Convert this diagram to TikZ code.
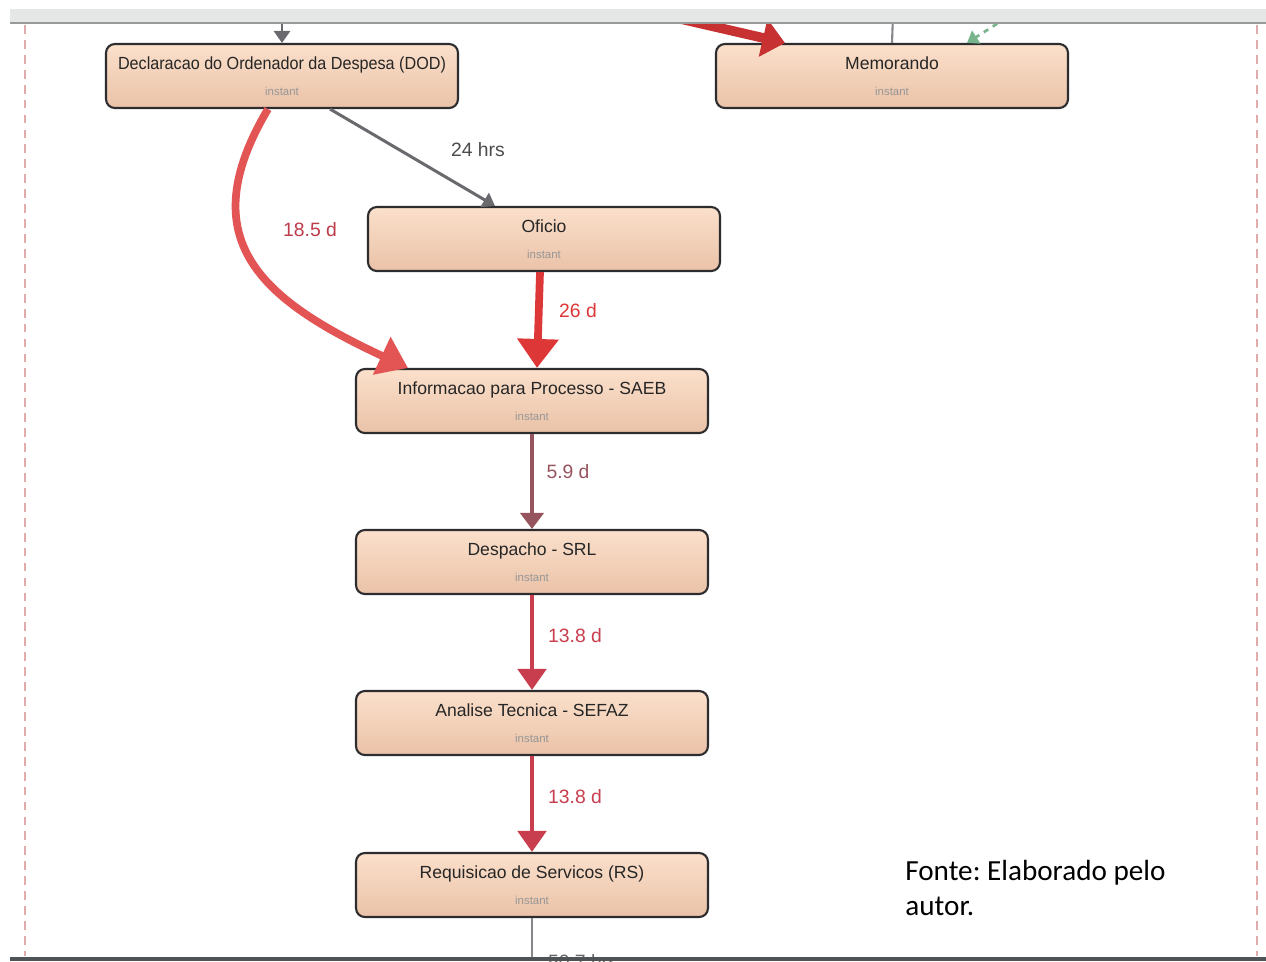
\documentclass[tikz,border=0pt]{standalone}
\usepackage{fontspec}
\setmainfont{Liberation Sans}
\newfontfamily\fontefont{Carlito}
\usetikzlibrary{arrows.meta,calc}

\definecolor{boxtop}{RGB}{251,224,203}
\definecolor{boxbot}{RGB}{234,194,168}
\definecolor{boxline}{RGB}{45,45,48}
\definecolor{instgray}{RGB}{150,150,150}
\definecolor{hotred}{RGB}{222,55,55}
\definecolor{midred}{RGB}{200,62,78}
\definecolor{dullred}{RGB}{150,84,94}
\definecolor{edgegray}{RGB}{105,105,110}
\definecolor{dashgreen}{RGB}{120,180,140}
\definecolor{framepink}{RGB}{225,172,172}
\definecolor{bandgray}{RGB}{229,231,231}
\definecolor{framebase}{RGB}{78,83,88}

\newcommand*{\evt}[1]{#1\\[3pt]{\fontsize{6.5}{8}\selectfont\color{instgray}instant}}

\begin{document}
\begin{tikzpicture}
[
	x=0.02cm, y=-0.02cm,
	task/.style={draw=boxline, line width=1.2pt, rounded corners=5pt, top color=boxtop, bottom color=boxbot,
		minimum width=7.04cm, minimum height=1.28cm, align=center, text=black!85,
		font=\fontsize{10}{12}\selectfont},
	dur/.style={font=\fontsize{11}{13}\selectfont, inner sep=1pt},
	grayflow/.style={edgegray, line width=1.7pt, -{Triangle[length=0.24cm,width=0.32cm]}},
	redflow/.style={hotred, line width=4.4pt, -{Triangle[length=0.58cm,width=0.8cm]}},
	midflow/.style={midred, line width=2.8pt, -{Triangle[length=0.42cm,width=0.56cm]}},
	dullflow/.style={dullred, line width=2.2pt, -{Triangle[length=0.32cm,width=0.46cm]}}
]

	\clip (0,0) rectangle (1266,961);
	\fill[white] (0,0) rectangle (1266,961);

	% events
	\node[task] (dod) at (282,76) {\evt{\scalebox{0.92}[1]{Declaracao do Ordenador da Despesa (DOD)}}};
	\node[task] (memo) at (892,76) {\evt{Memorando}};
	\node[task] (oficio) at (544,239) {\evt{Oficio}};
	\node[task] (info) at (532,401) {\evt{Informacao para Processo - SAEB}};
	\node[task] (desp) at (532,562) {\evt{Despacho - SRL}};
	\node[task] (analise) at (532,723) {\evt{Analise Tecnica - SEFAZ}};
	\node[task] (req) at (532,885) {\evt{Requisicao de Servicos (RS)}};

	% loose ends (hidden under the window band)
	\coordinate (dodin) at (282,14);
	\coordinate (memoin) at (668,16);
	\coordinate (memoline) at (893,14);
	\coordinate (greenin) at (1006,18);
	\coordinate (reqout) at (532,961);

	% flows
	\draw[grayflow] (dodin) -- (dod.north);
	\draw[hotred!90!black, line width=5.5pt, -{Triangle[length=0.45cm,width=0.75cm]}] (memoin) -- ($(memo.north)+(-107,0)$);
	\draw[edgegray!80, line width=1.2pt] (memoline) -- (memo.north);
	\draw[dashgreen, line width=1.5pt, dashed, -{Triangle[length=0.22cm,width=0.3cm]}] (greenin) -- ($(memo.north)+(75,0)$);

	\draw[grayflow] ($(dod.south)+(48,0)$) -- ($(oficio.north)+(-49,0)$);
	\draw[redflow, hotred!85] ($(dod.south)+(-14,0)$) .. controls (190,240) and (262,300) .. ($(info.north)+(-124,0)$);
	\draw[redflow] ($(oficio.south)+(-4,0)$) -- ($(info.north)+(5,0)$);
	\draw[dullflow] (info.south) -- (desp.north);
	\draw[midflow] (desp.south) -- (analise.north);
	\draw[midflow] (analise.south) -- (req.north);
	\draw[edgegray!80, line width=1.5pt] (req.south) -- (reqout);

	% durations
	\node[dur, text=black!70] (d24h) at (478,150) {24 hrs};
	\node[dur, text=midred!95!black] (d185) at (310,230) {18.5 d};
	\node[dur, text=hotred] (d26) at (578,311) {26 d};
	\node[dur, text=dullred] (d59) at (568,472) {5.9 d};
	\node[dur, text=midred] (d138a) at (575,636) {13.8 d};
	\node[dur, text=midred] (d138b) at (575,797) {13.8 d};
	\node[dur, text=black!60, anchor=base west] (d507) at (546,968) {50.7 hrs};

	% window frame
	\fill[bandgray] (10,9) rectangle (1266,23);
	\draw[black!40, line width=1.2pt] (10,23) -- (1266,23);
	\draw[framepink, line width=1pt, dash pattern=on 5pt off 3.5pt] (25,25) -- (25,956);
	\draw[framepink, line width=1pt, dash pattern=on 5pt off 3.5pt] (1257,25) -- (1257,956);
	\fill[framebase] (10,957) rectangle (1266,961);

	\node[anchor=north west, align=left, inner sep=0pt, font=\fontefont\fontsize{16.6}{20}\selectfont\frenchspacing] (fonte) at (905,860) {Fonte: Elaborado pelo\\autor.};

\end{tikzpicture}
\end{document}
